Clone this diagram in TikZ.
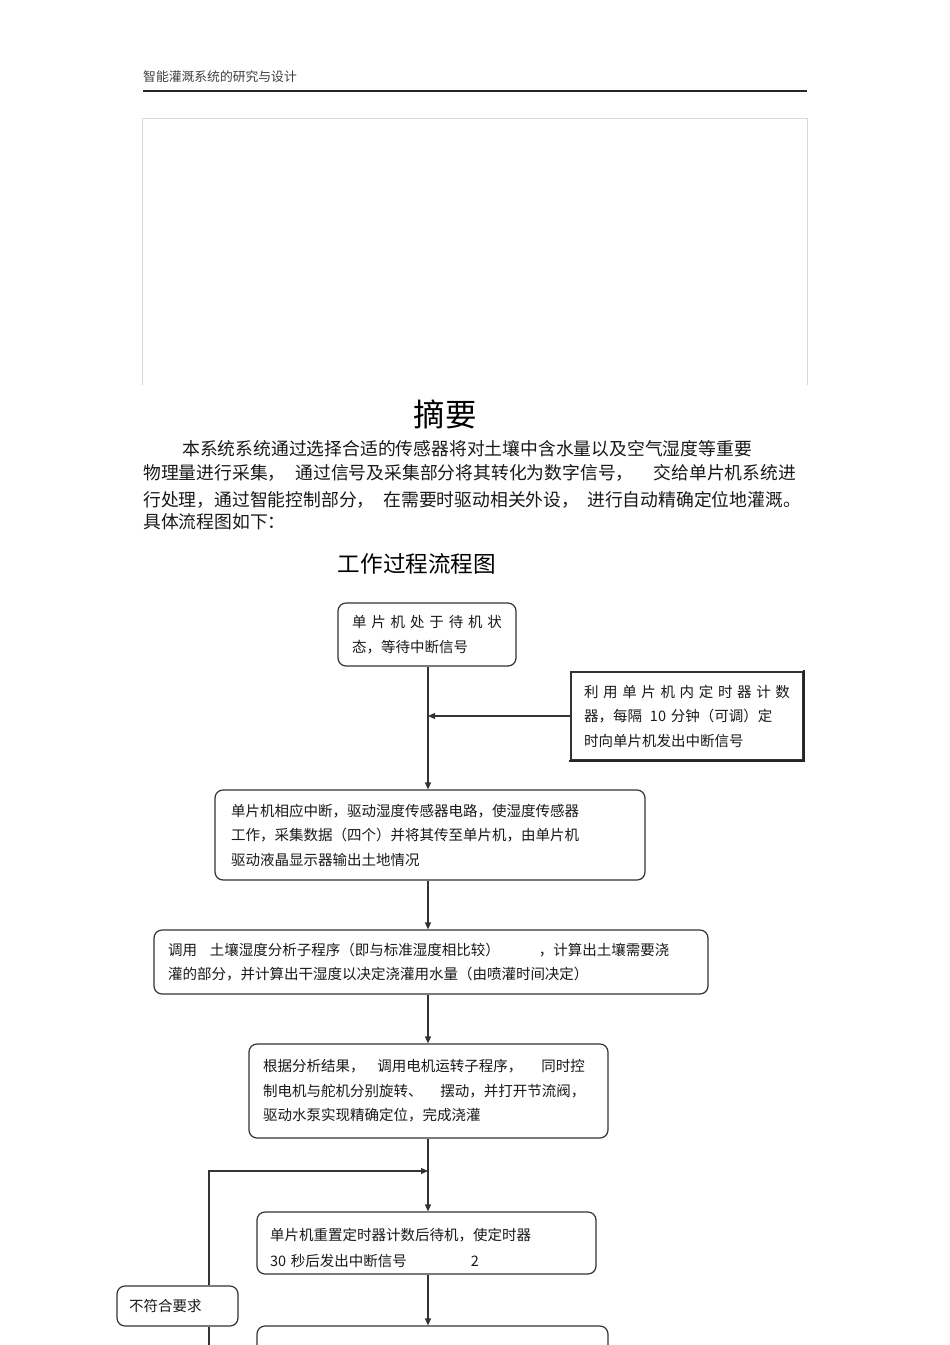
\documentclass[tikz,border=0pt]{standalone}
\usepackage{fontspec}
\setmainfont{Noto Sans CJK SC}
\usetikzlibrary{arrows.meta}
\begin{document}
\begin{tikzpicture}[x=1pt,y=-1pt,
  box/.style={draw=black!80, line width=1.2pt, rounded corners=8pt, align=left,
    inner ysep=0pt, text=black!90, font=\fontsize{14.5}{24.5}\selectfont},
  arr/.style={draw=black!80, line width=1.2pt, -{Triangle[length=7pt,width=6pt]}},
  ln/.style={draw=black!80, line width=1.2pt},
  txt/.style={inner sep=0pt, anchor=base west, text=black!90}]
\useasboundingbox (0,0) rectangle (950,1345);
\clip (0,0) rectangle (950,1345);
\fill[white] (0,0) rectangle (950,1345);

% header
\node[txt, text=black!75, font=\fontsize{12.8}{14}\selectfont] (hdr) at (143,81) {智能灌溉系统的研究与设计};
\draw[line width=1.3pt, black!85] (143,91) -- (807,91);
\draw[gray!30, line width=0.9pt] (142,385) -- (142,118) -- (807,118) -- (807,385);

% abstract
\node[inner sep=0pt, anchor=base, font=\fontsize{31.5}{34}\selectfont] (abs) at (445,426) {摘要};
\node[txt, font=\fontsize{17.8}{20}\selectfont] (p1) at (182,455) {本系统系统通过选择合适的传感器将对土壤中含水量以及空气湿度等重要};
\node[txt, font=\fontsize{17.8}{20}\selectfont] (p2) at (143,479) {物理量进行采集，\hspace*{10pt}通过信号及采集部分将其转化为数字信号，\hspace*{20pt}交给单片机系统进};
\node[txt, font=\fontsize{17.8}{20}\selectfont] (p3) at (143,506) {行处理，通过智能控制部分，\hspace*{9pt}在需要时驱动相关外设，\hspace*{8pt}进行自动精确定位地灌溉。};
\node[txt, font=\fontsize{17.8}{20}\selectfont] (p4) at (143,528) {具体流程图如下：};

\node[inner sep=0pt, anchor=base, font=\fontsize{22.6}{24}\selectfont] (ft) at (417,572) {工作过程流程图};

% flowchart boxes
\node[box, minimum width=178pt, minimum height=63pt, text width=150pt, inner xsep=14pt] (b1) at (427,634.5)
  {\makebox[150pt][s]{单\hfill 片\hfill 机\hfill 处\hfill 于\hfill 待\hfill 机\hfill 状}\\态，等待中断信号};

\node[box, sharp corners, minimum width=232pt, minimum height=88pt, text width=206pt, inner xsep=13pt] (tm) at (687,716)
  {\makebox[206pt][s]{利\hfill 用\hfill 单\hfill 片\hfill 机\hfill 内\hfill 定\hfill 时\hfill 器\hfill 计\hfill 数}\\器，每隔\hspace*{8pt}10 分钟（可调）定\\时向单片机发出中断信号};
\draw[line width=2.2pt, black!85, line cap=rect] ([shift={(0.6,0)}]tm.north east) -- ([shift={(0.6,0.6)}]tm.south east) -- ([shift={(0,0.6)}]tm.south west);

\node[box, minimum width=430pt, minimum height=90pt, text width=398pt, inner xsep=16pt] (b2) at (430,835)
  {单片机相应中断，驱动湿度传感器电路，使湿度传感器\\工作，采集数据（四个）并将其传至单片机，由单片机\\驱动液晶显示器输出土地情况};

\node[box, minimum width=554pt, minimum height=64pt, text width=526pt, inner xsep=14pt] (b3) at (431,962)
  {调用\hspace*{13pt}土壤湿度分析子程序（即与标准湿度相比较）\hspace*{39pt}，计算出土壤需要浇\\灌的部分，并计算出干湿度以决定浇灌用水量（由喷灌时间决定）};

\node[box, minimum width=359pt, minimum height=94pt, text width=331pt, inner xsep=14pt] (b4) at (428.5,1091)
  {根据分析结果，\hspace*{13pt}调用电机运转子程序，\hspace*{19pt}同时控\\制电机与舵机分别旋转、\hspace*{18pt}摆动，并打开节流阀，\\驱动水泵实现精确定位，完成浇灌};

\node[box, minimum width=339pt, minimum height=62pt, text width=313pt, inner xsep=13pt,
  font=\fontsize{14.5}{26}\selectfont] (b5) at (426.5,1243)
  {\rule{0pt}{22.8pt}单片机重置定时器计数后待机，使定时器\\30 秒后发出中断信号\hspace*{64pt}2};

\node[box, minimum width=121pt, minimum height=40pt, text width=97pt, inner xsep=12pt] (nf) at (177.5,1306) {不符合要求};

\node[box, minimum width=351pt, minimum height=120pt] (b6) at (432.5,1386) {};

% connectors
\coordinate (sp) at (428,0);
\coordinate (j1) at (428,716);
\coordinate (lp) at (209,1171);
\coordinate (j2) at (428,1171);
\coordinate (lb) at (209,1360);
\draw[arr] (b1.south -| sp) -- (b2.north -| sp);
\draw[arr] (tm.west) -- (j1);
\draw[arr] (b2.south -| sp) -- (b3.north -| sp);
\draw[arr] (b3.south -| sp) -- (b4.north -| sp);
\draw[arr] (b4.south -| sp) -- (b5.north -| sp);
\draw[arr] (b5.south -| sp) -- (b6.north -| sp);
\draw[arr] (nf.north -| lp) -- (lp) -- (j2);
\draw[ln] (lb) -- (nf.south -| lp);
\end{tikzpicture}
\end{document}
